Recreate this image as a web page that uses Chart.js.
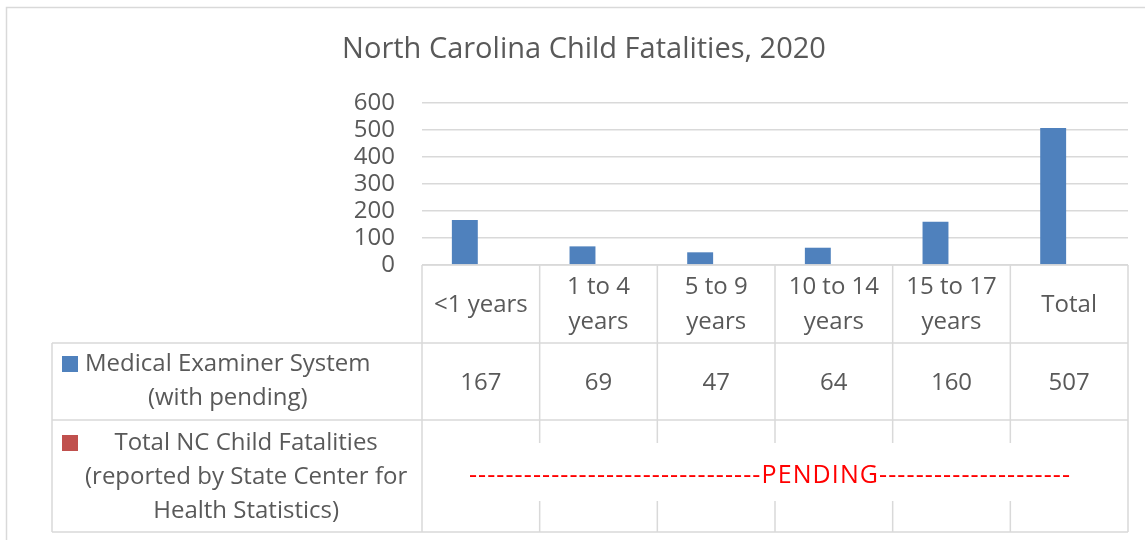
<!DOCTYPE html>
<html><head><meta charset="utf-8">
<script src="https://cdn.jsdelivr.net/npm/chart.js@4.4.0/dist/chart.umd.min.js"></script>
<style>html,body{margin:0;padding:0;background:#fff;}#wrap{width:1145px;height:540px;}</style>
</head><body><div id="wrap"><canvas id="c" width="1145" height="540"></canvas></div>
<script>
const chartTitle = "North Carolina Child Fatalities, 2020";
const categories = [["<1 years"], ["1 to 4", "years"], ["5 to 9", "years"], ["10 to 14", "years"], ["15 to 17", "years"], ["Total"]];
const seriesMENames = ["Medical Examiner System", "(with pending)"];
const seriesNCNames = ["Total NC Child Fatalities", "(reported by State Center for", "Health Statistics)"];
const medicalExaminer = [167, 69, 47, 64, 160, 507];
const stateCenter = [null, null, null, null, null, null];
const pendingText = "--------------------------------PENDING---------------------";
const yMin = 0, yMax = 600, yStep = 100;

const TXT = '#595959', LINE = '#D9D9D9', FONT = '"Open Sans", "Noto Sans", sans-serif';

const framePlugin = {
  id: 'frame',
  beforeDraw(chart) {
    const ctx = chart.ctx;
    ctx.save();
    ctx.fillStyle = '#fff';
    ctx.fillRect(0, 0, chart.width, chart.height);
    ctx.strokeStyle = LINE; ctx.lineWidth = 1.5;
    ctx.beginPath();
    ctx.moveTo(6.5, chart.height + 2); ctx.lineTo(6.5, 7.5); ctx.lineTo(chart.width + 2, 7.5);
    ctx.stroke();
    ctx.fillStyle = TXT;
    ctx.font = '29px ' + FONT;
    ctx.textAlign = 'center'; ctx.textBaseline = 'middle';
    ctx.fillText(chartTitle, 584, 50);
    ctx.restore();
  }
};

const tablePlugin = {
  id: 'tbl',
  afterDraw(chart) {
    const ctx = chart.ctx, xs = chart.scales.x, area = chart.chartArea;
    const n = categories.length;
    const colW = (area.right - area.left) / n;
    const edges = [];
    for (let i = 0; i < n; i++) edges.push(xs.getPixelForValue(i) - colW / 2);
    edges.push(xs.getPixelForValue(n - 1) + colW / 2);
    const left = 52, top = area.bottom, hB = 343, r1B = 420, r2B = 532;
    ctx.save();
    ctx.strokeStyle = LINE; ctx.lineWidth = 1.5;
    ctx.beginPath();
    for (let i = 0; i <= n; i++) { ctx.moveTo(edges[i], top); ctx.lineTo(edges[i], r2B); }
    ctx.moveTo(left, hB); ctx.lineTo(left, r2B);
    ctx.moveTo(edges[0], top); ctx.lineTo(edges[n], top);
    [hB, r1B, r2B].forEach(y => { ctx.moveTo(left, y); ctx.lineTo(edges[n], y); });
    ctx.stroke();

    ctx.fillStyle = TXT;
    ctx.font = '24px ' + FONT;
    ctx.textAlign = 'center'; ctx.textBaseline = 'middle';
    const hC = (top + hB) / 2 + 1;
    categories.forEach((lines, i) => {
      const cx = xs.getPixelForValue(i);
      lines.forEach((t, k) => ctx.fillText(t, cx, hC + (k - (lines.length - 1) / 2) * 35));
    });
    const r1C = (hB + r1B) / 2 + 1;
    const ds = chart.data.datasets[0].data;
    ds.forEach((v, i) => ctx.fillText(String(v), xs.getPixelForValue(i), r1C + 1));
    const drawName = (lines, cy, color) => {
      let maxW = 0; lines.forEach(t => maxW = Math.max(maxW, ctx.measureText(t).width));
      const bx = 85 + maxW / 2;
      const y0 = cy - (lines.length - 1) / 2 * 34;
      ctx.fillStyle = color; ctx.fillRect(62, y0 - 8, 16, 16);
      ctx.fillStyle = TXT;
      lines.forEach((t, k) => ctx.fillText(t, bx, y0 + k * 34));
    };
    drawName(seriesMENames, 381, chart.data.datasets[0].backgroundColor);
    drawName(seriesNCNames, 477, chart.data.datasets[1].backgroundColor);
    ctx.fillStyle = '#fff';
    ctx.fillRect(edges[0] + 8, 443, edges[n] - edges[0] - 16, 58);
    ctx.fillStyle = '#FF0000';
    ctx.font = '25px ' + FONT;
    ctx.letterSpacing = '1.1px';
    ctx.fillText(pendingText, 770, 476);
    ctx.restore();
  }
};

new Chart(document.getElementById('c'), {
  type: 'bar',
  data: {
    labels: categories,
    datasets: [
      { label: seriesMENames.join(' '), data: medicalExaminer, backgroundColor: '#4F81BD', borderWidth: 0, categoryPercentage: 0.544, barPercentage: 0.81 },
      { label: seriesNCNames.join(' '), data: stateCenter, backgroundColor: '#C0504D', borderWidth: 0, categoryPercentage: 0.544, barPercentage: 0.81 }
    ]
  },
  options: {
    responsive: false, animation: false,
    layout: { padding: { left: 302, right: 17, top: 103, bottom: 275 } },
    plugins: { legend: { display: false }, title: { display: false }, tooltip: { enabled: false } },
    scales: {
      x: { display: false, offset: true, grid: { offset: true } },
      y: {
        min: yMin, max: yMax,
        ticks: { stepSize: yStep, padding: 27, autoSkip: false, color: TXT, font: { family: FONT, size: 24, lineHeight: 1 } },
        grid: { color: LINE, lineWidth: 1.5, drawTicks: false },
        border: { display: false },
        afterFit(s) { s.width = 120; }
      }
    }
  },
  plugins: [framePlugin, tablePlugin]
});
</script></body></html>
